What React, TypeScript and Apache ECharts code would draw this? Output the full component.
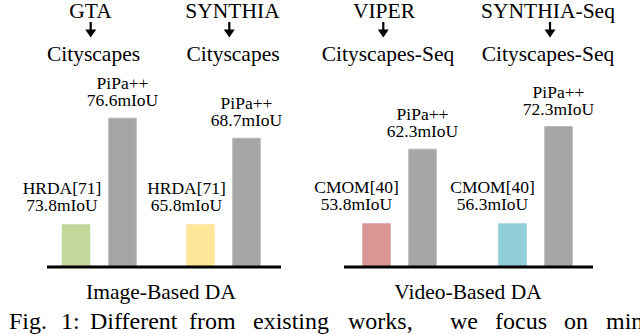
import React, { useEffect, useRef } from "react";
import * as echarts from "echarts";

// ---- data ----
const sources = ["GTA", "SYNTHIA", "VIPER", "SYNTHIA-Seq"];
const targets = ["Cityscapes", "Cityscapes", "Cityscapes-Seq", "Cityscapes-Seq"];
const baselineNames = ["HRDA[71]", "HRDA[71]", "CMOM[40]", "CMOM[40]"];
const oursName = "PiPa++";
const baselineMiou = [73.8, 65.8, 53.8, 56.3];
const oursMiou = [76.6, 68.7, 62.3, 72.3];
const groupTitles = ["Image-Based DA", "Video-Based DA"];
const captionWords = ["Fig.", "1:", "Different", "from", "existing", "works,", "we", "focus", "on", "mining"];

// ---- styling / layout ----
const baselineColors = ["#c4d79b", "#ffe699", "#d99694", "#92cddc"];
const oursColor = "#a5a5a5";
const FONT = "Liberation Serif";
const pairCenters = [99.25, 223.5, 399.5, 535.5];
const pairSep = [46.5, 46, 46, 46];
const labelShift = [-14, -14, -20, -20];
// schematic (non-zero-based) value ranges of each pair's hidden y axis
const axisRanges: number[][] = [
  [72.705, 77.958],
  [64.403, 71.101],
  [48.934, 71.723],
  [49.278, 82.167],
];
const sourceX = [90.5, 232.5, 384, 548];
const arrowX = [90.7, 229.3, 383.3, 550];
const targetX = [93.5, 233, 388, 548];
const groupX = [161, 468];
const baseLines = [
  [47, 281],
  [344, 593],
];
const captionX = [9, 61, 90, 189, 253, 348, 450, 495, 564, 606];

const GRID_TOP = 66;
const GRID_H = 200;

export default function App() {
  const ref = useRef<HTMLDivElement>(null);
  useEffect(() => {
    if (!ref.current) return;
    const chart = echarts.init(ref.current, null, { renderer: "svg" });

    const grids = pairCenters.map((c, i) => ({
      left: c - pairSep[i],
      width: pairSep[i] * 2,
      top: GRID_TOP,
      height: GRID_H,
    }));
    const xAxes = pairCenters.map((_, i) => ({
      type: "category",
      gridIndex: i,
      data: [baselineNames[i], oursName],
      show: false,
    }));
    const yAxes = pairCenters.map((_, i) => ({
      type: "value",
      gridIndex: i,
      min: axisRanges[i][0],
      max: axisRanges[i][1],
      show: false,
    }));
    const series = pairCenters.map((_, i) => ({
      type: "bar",
      xAxisIndex: i,
      yAxisIndex: i,
      barWidth: 28.5,
      data: [
        {
          value: baselineMiou[i],
          itemStyle: { color: baselineColors[i] },
          label: { offset: [labelShift[i], -1.5] },
        },
        {
          value: oursMiou[i],
          itemStyle: { color: oursColor, borderColor: "#b8b8b8", borderWidth: 1 },
        },
      ],
      label: {
        show: true,
        position: "top",
        distance: 9,
        fontFamily: FONT,
        fontSize: 17.5,
        lineHeight: 17,
        color: "#000",
        align: "center",
        formatter: (p: any) => `${p.name}\n${Number(p.value).toFixed(1)}mIoU`,
      },
    }));

    const graphics: any[] = [];
    const txt = (text: string, x: number, y: number, size: number, align = "center") => ({
      type: "text",
      x,
      y,
      style: { text, fontFamily: FONT, fontSize: size, fill: "#000", align, verticalAlign: "middle" },
    });
    sources.forEach((s, i) => {
      graphics.push(txt(s, sourceX[i], 10.8, 21.5));
      graphics.push({
        type: "line",
        shape: { x1: arrowX[i], y1: 22, x2: arrowX[i], y2: 31 },
        style: { stroke: "#000", lineWidth: 2.2 },
      });
      graphics.push({
        type: "polygon",
        shape: {
          points: [
            [arrowX[i] - 5.5, 29.5],
            [arrowX[i] + 5.5, 29.5],
            [arrowX[i], 37.5],
          ],
        },
        style: { fill: "#000" },
      });
      graphics.push(txt(targets[i], targetX[i], 53.7, 21.5));
    });
    baseLines.forEach(([a, b]) => {
      graphics.push({
        type: "line",
        z: 100,
        shape: { x1: a, y1: 267, x2: b, y2: 267 },
        style: { stroke: "#000", lineWidth: 3 },
      });
    });
    groupTitles.forEach((t, i) => graphics.push(txt(t, groupX[i], 292, 21.5)));
    captionWords.forEach((w, i) => graphics.push(txt(w, captionX[i], 320.8, 24, "left")));

    chart.setOption({
      animation: false,
      backgroundColor: "#fff",
      grid: grids,
      xAxis: xAxes,
      yAxis: yAxes,
      series,
      graphic: graphics,
    } as any);

    return () => chart.dispose();
  }, []);

  return (
    <div
      ref={ref}
      style={{ position: "fixed", left: 0, top: 0, width: 640, height: 334 }}
    />
  );
}
